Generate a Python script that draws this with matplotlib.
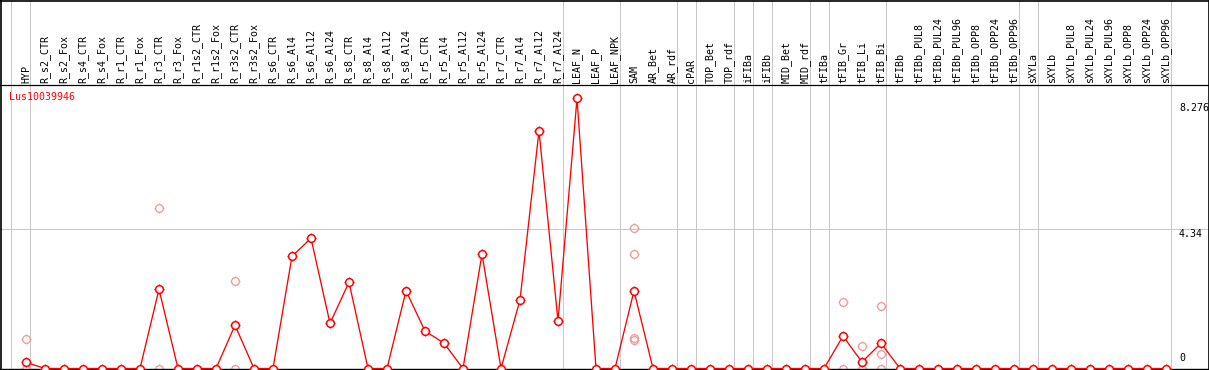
#!/usr/bin/env python3
"""Expression profile of Lus10039946 across tissue / treatment samples."""

import matplotlib

matplotlib.use("Agg")
import matplotlib.pyplot as plt  # noqa: E402
from matplotlib.path import Path  # noqa: E402

GENE = "Lus10039946"

SAMPLES = [
    "HYP",
    "R_s2_CTR", "R_s2_Fox", "R_s4_CTR", "R_s4_Fox", "R_r1_CTR", "R_r1_Fox",
    "R_r3_CTR", "R_r3_Fox", "R_r1s2_CTR", "R_r1s2_Fox", "R_r3s2_CTR", "R_r3s2_Fox",
    "R_s6_CTR", "R_s6_Al4", "R_s6_Al12", "R_s6_Al24",
    "R_s8_CTR", "R_s8_Al4", "R_s8_Al12", "R_s8_Al24",
    "R_r5_CTR", "R_r5_Al4", "R_r5_Al12", "R_r5_Al24",
    "R_r7_CTR", "R_r7_Al4", "R_r7_Al12", "R_r7_Al24",
    "LEAF_N", "LEAF_P", "LEAF_NPK",
    "SAM", "AR_Bet", "AR_rdf", "cPAR", "TOP_Bet", "TOP_rdf", "iFIBa", "iFIBb",
    "MID_Bet", "MID_rdf", "tFIBa", "tFIB_Gr", "tFIB_Li", "tFIB_Bi",
    "tFIBb", "tFIBb_PUL8", "tFIBb_PUL24", "tFIBb_PUL96",
    "tFIBb_OPP8", "tFIBb_OPP24", "tFIBb_OPP96",
    "sXYLa", "sXYLb", "sXYLb_PUL8", "sXYLb_PUL24", "sXYLb_PUL96",
    "sXYLb_OPP8", "sXYLb_OPP24", "sXYLb_OPP96",
]

# mean expression per sample (everything not listed is 0)
MEAN = {
    "HYP": 0.19,
    "R_r3_CTR": 2.47,
    "R_r3s2_CTR": 1.35,
    "R_s6_Al4": 3.50,
    "R_s6_Al12": 4.06,
    "R_s6_Al24": 1.41,
    "R_s8_CTR": 2.69,
    "R_s8_Al24": 2.42,
    "R_r5_CTR": 1.17,
    "R_r5_Al4": 0.79,
    "R_r5_Al24": 3.57,
    "R_r7_Al4": 2.14,
    "R_r7_Al12": 7.41,
    "R_r7_Al24": 1.48,
    "LEAF_N": 8.42,
    "SAM": 2.42,
    "tFIB_Gr": 1.01,
    "tFIB_Li": 0.20,
    "tFIB_Bi": 0.79,
}

# individual replicates (faint markers)
REPLICATES = {
    "HYP": [0.91, 0.0],
    "R_r3_CTR": [5.00, 0.0],
    "R_r3s2_CTR": [2.73, 0.0],
    "SAM": [4.37, 3.57, 0.89, 0.95],
    "tFIB_Gr": [2.06, 0.0],
    "tFIB_Li": [0.69, 0.0],
    "tFIB_Bi": [1.94, 0.44, 0.0],
}

# group separators: drawn just after these sample indices
SEPARATORS = [-1, 0, 28, 31, 34, 35, 37, 38, 39, 41, 42, 45, 52, 53, 60]

Y_TICKS = [0, 4.34, 8.276]
Y_GRID = [4.34]

W, H = 1209, 370
HEADER = 85
COL0, COLW = 26, 19
PX_PER_UNIT = 32.07
ZERO_Y = 368.5

RED = "#ff0000"
PINK = "#f09a9a"
GRID = "#c8c8c8"
FONT = "DejaVu Sans Mono"


def tick_circle():
    # four short ticks sticking out of the circle
    ticks = [(0, 0.7), (0, 1.0), (0, -0.7), (0, -1.0),
             (0.7, 0), (1.0, 0), (-0.7, 0), (-1.0, 0)]
    codes = [Path.MOVETO, Path.LINETO] * 4
    return Path(ticks, codes)


def main():
    px = 1 / 100.0
    fig = plt.figure(figsize=(W * px, H * px), dpi=100)

    xlo = (0 - COL0) / COLW
    xhi = (W - COL0) / COLW
    sep_x = [i + 4.5 / COLW for i in SEPARATORS]

    # header with rotated sample names
    hax = fig.add_axes([0, 1 - HEADER / H, 1, HEADER / H])
    hax.set_xlim(xlo, xhi)
    hax.set_ylim(0, 1)
    hax.set_xticks([])
    hax.set_yticks([])
    for s in hax.spines.values():
        s.set_visible(False)
    for x in sep_x:
        hax.axvline(x, color=GRID, linewidth=0.72, zorder=1)
    for i, name in enumerate(SAMPLES):
        hax.text(i, 2.0 / HEADER, name, rotation=90, ha="center", va="bottom",
                 fontsize=7.2, family=FONT, color="black", zorder=3)

    # plot area
    bottom_px = 369
    ax = fig.add_axes([0, (H - bottom_px) / H, 1, (bottom_px - HEADER) / H])
    ax.set_xlim(xlo, xhi)
    ax.set_ylim((ZERO_Y - bottom_px) / PX_PER_UNIT, (ZERO_Y - HEADER) / PX_PER_UNIT)
    ax.set_xticks([])
    ax.set_yticks([])
    for s in ax.spines.values():
        s.set_visible(False)
    ax.spines["bottom"].set_visible(True)
    ax.spines["bottom"].set_linewidth(1.4 * 0.72)

    for x in sep_x:
        ax.axvline(x, color=GRID, linewidth=0.72, zorder=1)
    for y in Y_GRID:
        ax.axhline(y, color=GRID, linewidth=0.72, zorder=1)

    xs = list(range(len(SAMPLES)))
    ys = [MEAN.get(name, 0.0) for name in SAMPLES]

    tick = tick_circle()
    # replicates
    for name, vals in REPLICATES.items():
        i = SAMPLES.index(name)
        ax.plot([i] * len(vals), vals, linestyle="none", marker="o", markersize=5.6,
                mfc="none", mec=PINK, mew=0.95, zorder=2)
        ax.plot([i] * len(vals), vals, linestyle="none", marker=tick, markersize=7.4,
                mec=PINK, mew=0.8, zorder=2)

    ax.plot(xs, ys, color=RED, linewidth=0.95, zorder=3)
    ax.plot(xs, ys, linestyle="none", marker="o", markersize=5.6, mfc="white",
            mec=RED, mew=1.1, zorder=4)
    ax.plot(xs, ys, linestyle="none", marker=tick, markersize=7.4, mec=RED,
            mew=0.9, zorder=4)

    ax.text((9 - COL0) / COLW, (ZERO_Y - 97) / PX_PER_UNIT, GENE, ha="left",
            va="center", fontsize=7.2, family=FONT, color=RED, zorder=5)

    # value labels on the right
    lab_x = (1179 - COL0) / COLW
    for v in Y_TICKS:
        if v == 0:
            ax.annotate("0", (lab_x, v), xytext=(0, 4), textcoords="offset points",
                        ha="left", va="bottom", fontsize=7.2, family=FONT, zorder=5)
        else:
            ax.annotate(f"{v:g}", (lab_x, v), xytext=(0, 0), textcoords="offset points",
                        ha="left", va="top", fontsize=7.2, family=FONT, zorder=5)

    # frame: outer border and header separator
    frame = fig.add_axes([0, 0, 1, 1], facecolor="none")
    frame.set_xlim(0, W)
    frame.set_ylim(H, 0)
    frame.set_xticks([])
    frame.set_yticks([])
    for s in frame.spines.values():
        s.set_visible(False)
    frame.axhline(HEADER, color="black", linewidth=0.9)
    frame.axhline(0.5, color="black", linewidth=1.2)
    frame.axvline(0.5, color="black", linewidth=1.2)
    frame.axvline(W - 0.5, color="black", linewidth=1.2)

    fig.savefig("out.png", dpi=100)


if __name__ == "__main__":
    main()
